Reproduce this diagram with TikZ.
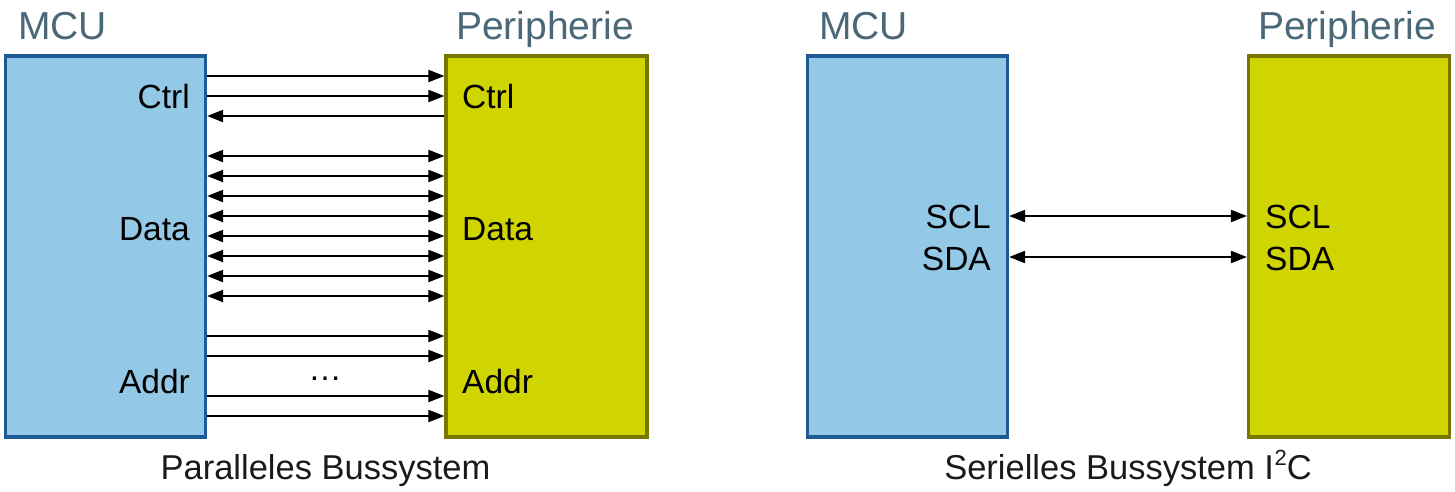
\documentclass[tikz,border=0pt]{standalone}
\usepackage{fontspec}
\setmainfont{Liberation Sans}
\usetikzlibrary{arrows.meta}
\definecolor{mcufill}{HTML}{93C8E6}
\definecolor{mculine}{HTML}{1E5A96}
\definecolor{perfill}{HTML}{D0D400}
\definecolor{perline}{HTML}{767600}
\definecolor{titlecol}{HTML}{4A6878}
\definecolor{capcol}{HTML}{1A1A1A}
\tikzset{
  mcubox/.style={draw=mculine, fill=mcufill, line width=3.2pt, minimum width=200pt, minimum height=381pt, inner sep=0pt},
  perbox/.style={draw=perline, fill=perfill, line width=3.2pt, minimum width=201pt, minimum height=381pt, inner sep=0pt},
  titletext/.style={text=titlecol, font=\fontsize{39}{42}\selectfont, inner sep=0pt, anchor=base west},
  lbl/.style={font=\fontsize{33.5}{36}\selectfont, inner sep=0pt},
  captext/.style={text=capcol, font=\fontsize{34.5}{38}\selectfont, inner sep=0pt, anchor=base},
  wire/.style={line width=2pt, black},
  tip/.style={-{Triangle[length=16pt,width=12pt]}},
  rtip/.style={{Triangle[length=16pt,width=12pt]}-},
  btip/.style={{Triangle[length=16pt,width=12pt]}-{Triangle[length=16pt,width=12pt]}}
}
\begin{document}
\begin{tikzpicture}[x=1pt,y=-1pt]
\useasboundingbox (0,0) rectangle (1455,491);
% boxes
\node[mcubox] (m1) at (105.5,246.5) {};
\node[perbox] (p1) at (546.5,246.5) {};
\node[mcubox] (m2) at (907.5,246.5) {};
\node[perbox] (p2) at (1349,246.5) {};
% titles
\node[titletext] (t1) at (18,39) {MCU};
\node[titletext] (t2) at (456,39) {Peripherie};
\node[titletext] (t3) at (819,39) {MCU};
\node[titletext] (t4) at (1258,39) {Peripherie};
% labels left
\node[lbl, anchor=base east] (lc) at (190,108.5) {Ctrl};
\node[lbl, anchor=base east] (ld) at (190,240) {Data};
\node[lbl, anchor=base east] (la) at (190,393) {Addr};
\node[lbl, anchor=base west] (rc) at (462,108.5) {Ctrl};
\node[lbl, anchor=base west] (rd) at (462,240) {Data};
\node[lbl, anchor=base west] (ra) at (462,393) {Addr};
\node[lbl, anchor=base] (dots) at (325,380) {\dots};
% labels right
\node[lbl, anchor=base east] (scl1) at (991,228) {SCL};
\node[lbl, anchor=base east] (sda1) at (991,270) {SDA};
\node[lbl, anchor=base west] (scl2) at (1265,228) {SCL};
\node[lbl, anchor=base west] (sda2) at (1265,270) {SDA};
% ctrl wires
\draw[wire,tip] (m1.east |- 0,76) -- (p1.west |- 0,76);
\draw[wire,tip] (m1.east |- 0,96) -- (p1.west |- 0,96);
\draw[wire,rtip] (m1.east |- 0,116) -- (p1.west |- 0,116);
% data wires
\foreach \yy in {156,176,196,216,236,256,276,296}
  \draw[wire,btip] (m1.east |- 0,\yy) -- (p1.west |- 0,\yy);
% addr wires
\foreach \yy in {336,356,396,416}
  \draw[wire,tip] (m1.east |- 0,\yy) -- (p1.west |- 0,\yy);
% serial
\draw[wire,btip] (m2.east |- 0,216) -- (p2.west |- 0,216);
\draw[wire,btip] (m2.east |- 0,257) -- (p2.west |- 0,257);
% captions
\node[captext] (c1) at (325.5,479) {Paralleles Bussystem};
\node[captext] (c2) at (1128,479) {Serielles Bussystem I\kern0.5pt\raisebox{0.4em}{\fontsize{22}{24}\selectfont 2}C};
\end{tikzpicture}
\end{document}
